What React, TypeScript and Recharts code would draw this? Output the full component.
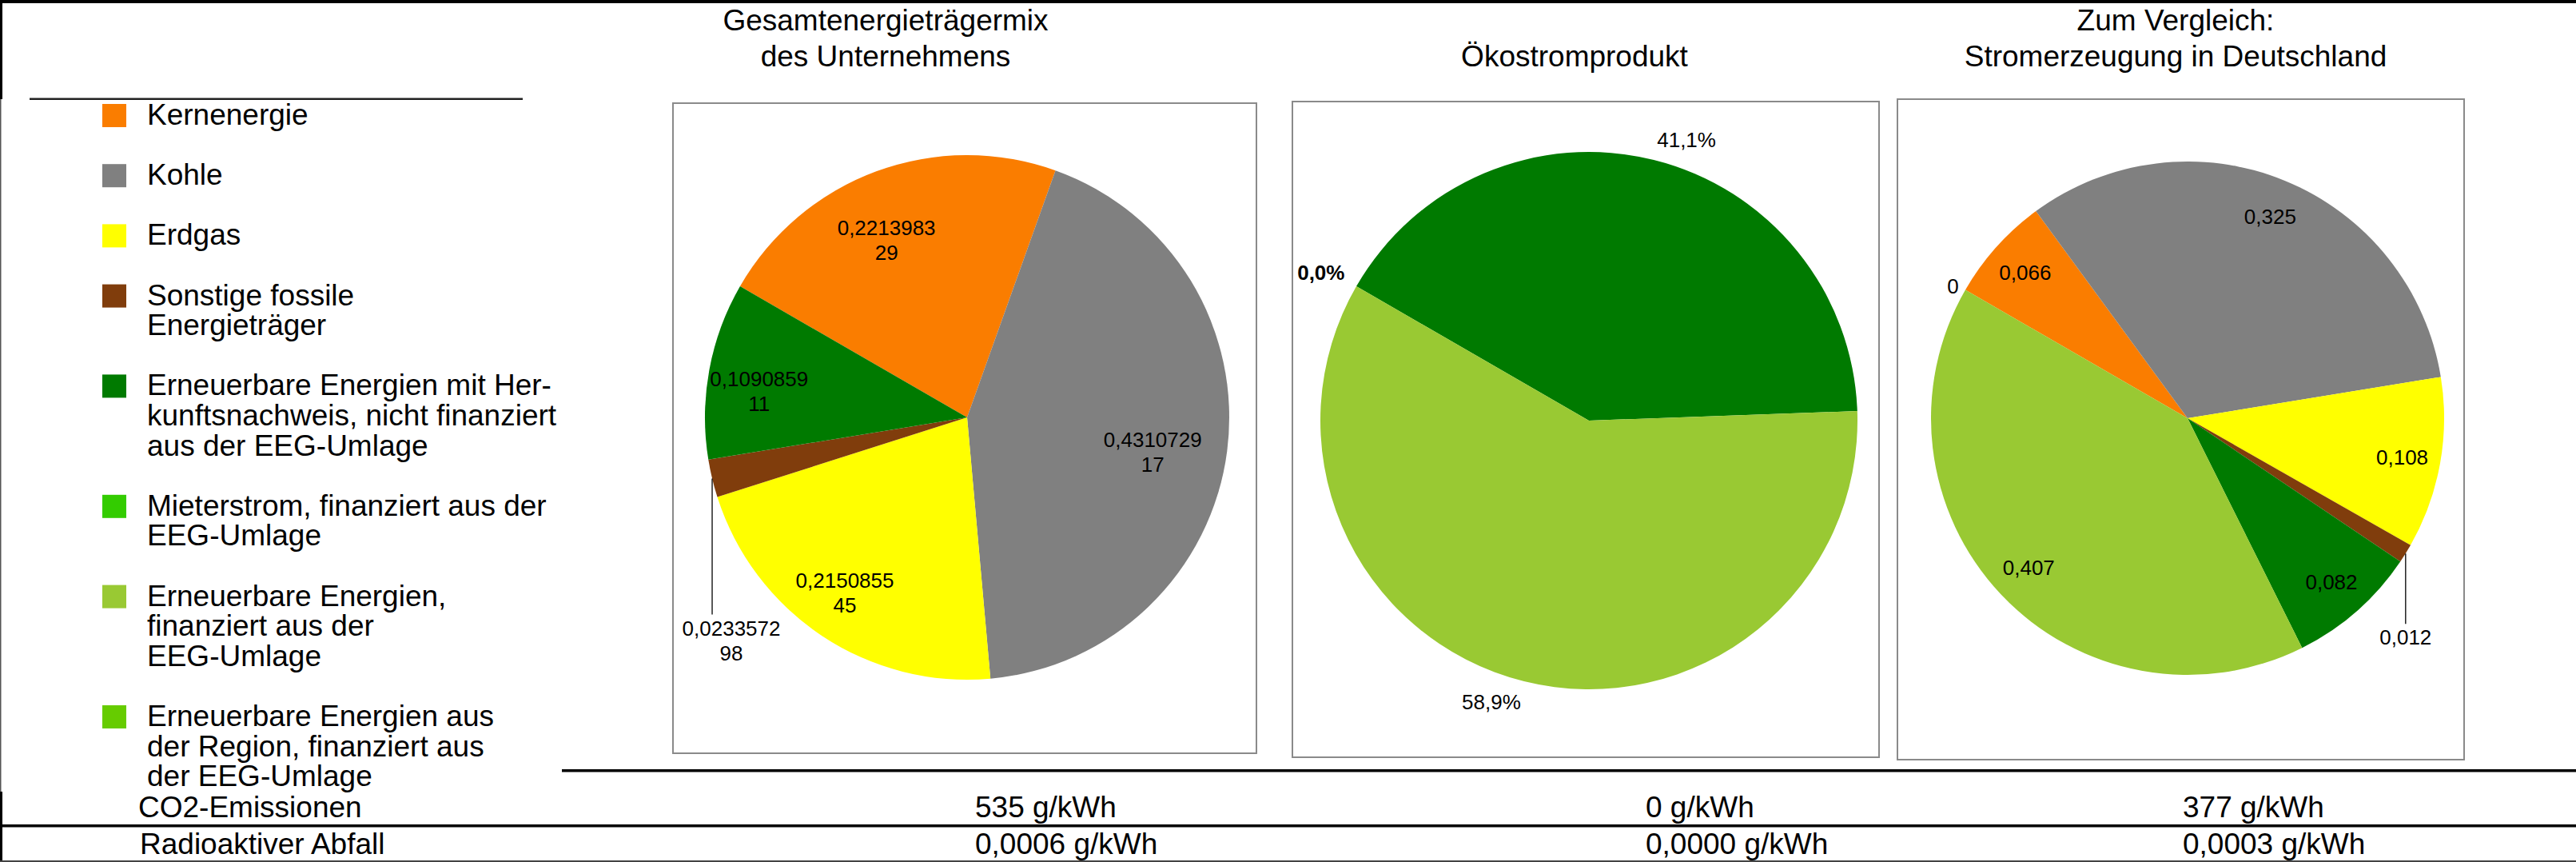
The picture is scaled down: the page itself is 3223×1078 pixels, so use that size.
import React from 'react';
import { PieChart, Pie, Cell } from 'recharts';

const FONT = '"Liberation Sans", Arial, Helvetica, sans-serif';
const RAD = Math.PI / 180;

// ---------- data ----------
const categories = [
  'Kernenergie',
  'Kohle',
  'Erdgas',
  'Sonstige fossile Energieträger',
  'Erneuerbare Energien mit Herkunftsnachweis, nicht finanziert aus der EEG-Umlage',
  'Mieterstrom, finanziert aus der EEG-Umlage',
  'Erneuerbare Energien, finanziert aus der EEG-Umlage',
  'Erneuerbare Energien aus der Region, finanziert aus der EEG-Umlage',
];

const legendLines = [
  ['Kernenergie'],
  ['Kohle'],
  ['Erdgas'],
  ['Sonstige fossile', 'Energieträger'],
  ['Erneuerbare Energien mit Her-', 'kunftsnachweis, nicht finanziert', 'aus der EEG-Umlage'],
  ['Mieterstrom, finanziert aus der', 'EEG-Umlage'],
  ['Erneuerbare Energien,', 'finanziert aus der', 'EEG-Umlage'],
  ['Erneuerbare Energien aus', 'der Region, finanziert aus', 'der EEG-Umlage'],
];

const colors = ['#FA7D00', '#808080', '#FFFF00', '#803D0C', '#007A00', '#33CC00', '#99C933', '#66CC00'];

const unternehmenValues: (number | null)[] = [0.221398329, 0.431072917, 0.215085545, 0.023357298, 0.109085911, null, null, null];
const oekostromValues: (number | null)[] = [null, null, null, null, 0.411, null, 0.589, 0];
const deutschlandValues: (number | null)[] = [0.066, 0.325, 0.108, 0.012, 0.082, null, 0.407, 0];

const chartTitles = [
  ['Gesamtenergieträgermix', 'des Unternehmens'],
  ['Ökostromprodukt'],
  ['Zum Vergleich:', 'Stromerzeugung in Deutschland'],
];

const rowLabels = ['CO2-Emissionen', 'Radioaktiver Abfall'];
const co2Values = ['535 g/kWh', '0 g/kWh', '377 g/kWh'];
const wasteValues = ['0,0006 g/kWh', '0,0000 g/kWh', '0,0003 g/kWh'];

// ---------- helpers ----------
type Entry = { name: string; value: number; idx: number };

function buildData(values: (number | null)[]): Entry[] {
  const out: Entry[] = [];
  values.forEach((v, i) => {
    if (v !== null) out.push({ name: categories[i], value: v, idx: i });
  });
  return out;
}

function polar(cx: number, cy: number, r: number, angle: number) {
  return { x: cx + r * Math.cos(-angle * RAD), y: cy + r * Math.sin(-angle * RAD) };
}

const fmt = (v: number) => String(v).replace('.', ',');
const LABEL_FS = 26;
const CAP = 9.3;

function multiLine(x: number, yc: number, lines: string[], lh: number, key?: string, bold?: boolean) {
  const n = lines.length;
  return (
    <text key={key} textAnchor="middle" fontSize={LABEL_FS} fontFamily={FONT} fill="#000" fontWeight={bold ? 'bold' : 'normal'}>
      {lines.map((l, i) => (
        <tspan key={i} x={x} y={yc - ((n - 1) * lh) / 2 + CAP + i * lh}>
          {l}
        </tspan>
      ))}
    </text>
  );
}

const getIdx = (p: any) => (p.payload && p.payload.idx !== undefined ? p.payload.idx : p.idx);

// Pie 1: long values wrapped on two lines, inside; "Sonstige" with leader line
const labelUnternehmen = (p: any) => {
  const idx = getIdx(p);
  const s = fmt(p.value);
  const lines = [s.slice(0, 9), s.slice(9)];
  if (idx === 3) {
    const e = polar(p.cx, p.cy, p.outerRadius, p.midAngle);
    const y2 = e.y + 170;
    return (
      <g>
        <line x1={e.x} y1={e.y} x2={e.x} y2={y2} stroke="#000" strokeWidth={1.3} />
        {multiLine(e.x + 24, y2 + 33, lines, 31)}
      </g>
    );
  }
  const c = polar(p.cx, p.cy, p.outerRadius * 0.76, p.midAngle);
  return multiLine(c.x - 15, c.y + 12, lines, 31);
};

// Pie 2: percentages outside
const labelOekostrom = (p: any) => {
  const e = polar(p.cx, p.cy, p.outerRadius * 1.05, p.midAngle);
  const anchor = e.x >= p.cx ? 'start' : 'end';
  const baseline = e.y < p.cy ? e.y : e.y + 19;
  const txt = (p.value * 100).toFixed(1).replace('.', ',') + '%';
  return (
    <text x={e.x} y={baseline} textAnchor={anchor} fontSize={LABEL_FS} fontFamily={FONT} fill="#000" fontWeight={p.value === 0 ? 'bold' : 'normal'}>
      {txt}
    </text>
  );
};

// Pie 3: short values inside, zero outside, "Sonstige" with leader
const labelDeutschland = (p: any) => {
  const idx = getIdx(p);
  const txt = fmt(p.value);
  if (p.value === 0) {
    const e = polar(p.cx, p.cy, p.outerRadius * 1.03, p.midAngle);
    return (
      <text x={e.x} y={e.y + CAP} textAnchor={e.x >= p.cx ? 'start' : 'end'} fontSize={LABEL_FS} fontFamily={FONT} fill="#000">
        {txt}
      </text>
    );
  }
  if (idx === 3) {
    const e = polar(p.cx, p.cy, p.outerRadius, p.midAngle);
    const y2 = e.y + 88;
    return (
      <g>
        <line x1={e.x} y1={e.y} x2={e.x} y2={y2} stroke="#000" strokeWidth={1.3} />
        {multiLine(e.x, y2 + 17, [txt], 31)}
      </g>
    );
  }
  const c = polar(p.cx, p.cy, p.outerRadius * 0.85, p.midAngle);
  return multiLine(c.x, c.y, [txt], 31);
};

// ---------- layout ----------
const pies = [
  { values: unternehmenValues, label: labelUnternehmen, frame: { x: 842, y: 129, w: 730, h: 813 }, cx: 368, cy: 393, r: 328, titleX: 1108 },
  { values: oekostromValues, label: labelOekostrom, frame: { x: 1617, y: 127, w: 734, h: 820 }, cx: 371, cy: 399, r: 336, titleX: 1970 },
  { values: deutschlandValues, label: labelDeutschland, frame: { x: 2374, y: 124, w: 709, h: 826 }, cx: 363, cy: 399, r: 321, titleX: 2722 },
];
const valueColX = [1220, 2059, 2731];

function Legend() {
  const items: React.ReactNode[] = [];
  let top = 130;
  const lh = 37.6;
  legendLines.forEach((lines, i) => {
    items.push(<rect key={'s' + i} x={128} y={top} width={30} height={29} fill={colors[i]} />);
    items.push(
      <text key={'t' + i} fontSize={37} fontFamily={FONT} fill="#000">
        {lines.map((l, j) => (
          <tspan key={j} x={184} y={top + 26 + j * lh}>
            {l}
          </tspan>
        ))}
      </text>
    );
    top += lh * lines.length + lh;
  });
  return <g>{items}</g>;
}

export default function App() {
  return (
    <div style={{ position: 'absolute', left: 0, top: 0, width: 3223, height: 1078, background: '#fff', overflow: 'hidden' }}>
      <svg width={3223} height={1078} style={{ position: 'absolute', left: 0, top: 0 }}>
        <rect x={0} y={0} width={3223} height={4} fill="#000" />
        <rect x={0} y={0} width={3} height={124} fill="#000" />
        <rect x={0} y={124} width={1.5} height={866} fill="#555" />
        <rect x={0} y={990} width={3} height={88} fill="#000" />
        <rect x={37} y={122.5} width={617} height={2.5} fill="#222" />
        <rect x={703} y={962} width={2520} height={3.5} fill="#000" />
        <rect x={0} y={1031} width={3223} height={3.5} fill="#000" />
        <rect x={0} y={1076} width={3223} height={2} fill="#444" />

        {pies.map((p, i) => (
          <rect key={'f' + i} x={p.frame.x} y={p.frame.y} width={p.frame.w} height={p.frame.h} fill="#fff" stroke="#8a8a8a" strokeWidth={2} />
        ))}

        {chartTitles.map((lines, i) => (
          <text key={'title' + i} textAnchor="middle" fontSize={37} fontFamily={FONT} fill="#000">
            {lines.map((l, j) => (
              <tspan key={j} x={pies[i].titleX} y={83 - (lines.length - 1 - j) * 45}>
                {l}
              </tspan>
            ))}
          </text>
        ))}

        <Legend />

        <text x={173} y={1022} fontSize={37} fontFamily={FONT} fill="#000">{rowLabels[0]}</text>
        <text x={175} y={1068} fontSize={37} fontFamily={FONT} fill="#000">{rowLabels[1]}</text>
        {co2Values.map((v, i) => (
          <text key={'c' + i} x={valueColX[i]} y={1022} fontSize={37} fontFamily={FONT} fill="#000">{v}</text>
        ))}
        {wasteValues.map((v, i) => (
          <text key={'w' + i} x={valueColX[i]} y={1068} fontSize={37} fontFamily={FONT} fill="#000">{v}</text>
        ))}
      </svg>

      {pies.map((p, i) => {
        const data = buildData(p.values);
        return (
          <div key={'pie' + i} style={{ position: 'absolute', left: p.frame.x, top: p.frame.y, width: p.frame.w, height: p.frame.h }}>
            <PieChart width={p.frame.w} height={p.frame.h} margin={{ top: 0, right: 0, bottom: 0, left: 0 }}>
              <Pie
                data={data}
                dataKey="value"
                nameKey="name"
                cx={p.cx}
                cy={p.cy}
                outerRadius={p.r}
                innerRadius={0}
                startAngle={150}
                endAngle={-210}
                stroke="none"
                isAnimationActive={false}
                labelLine={false}
                label={p.label}
              >
                {data.map((d) => (
                  <Cell key={d.idx} fill={colors[d.idx]} stroke="none" />
                ))}
              </Pie>
            </PieChart>
          </div>
        );
      })}
    </div>
  );
}
